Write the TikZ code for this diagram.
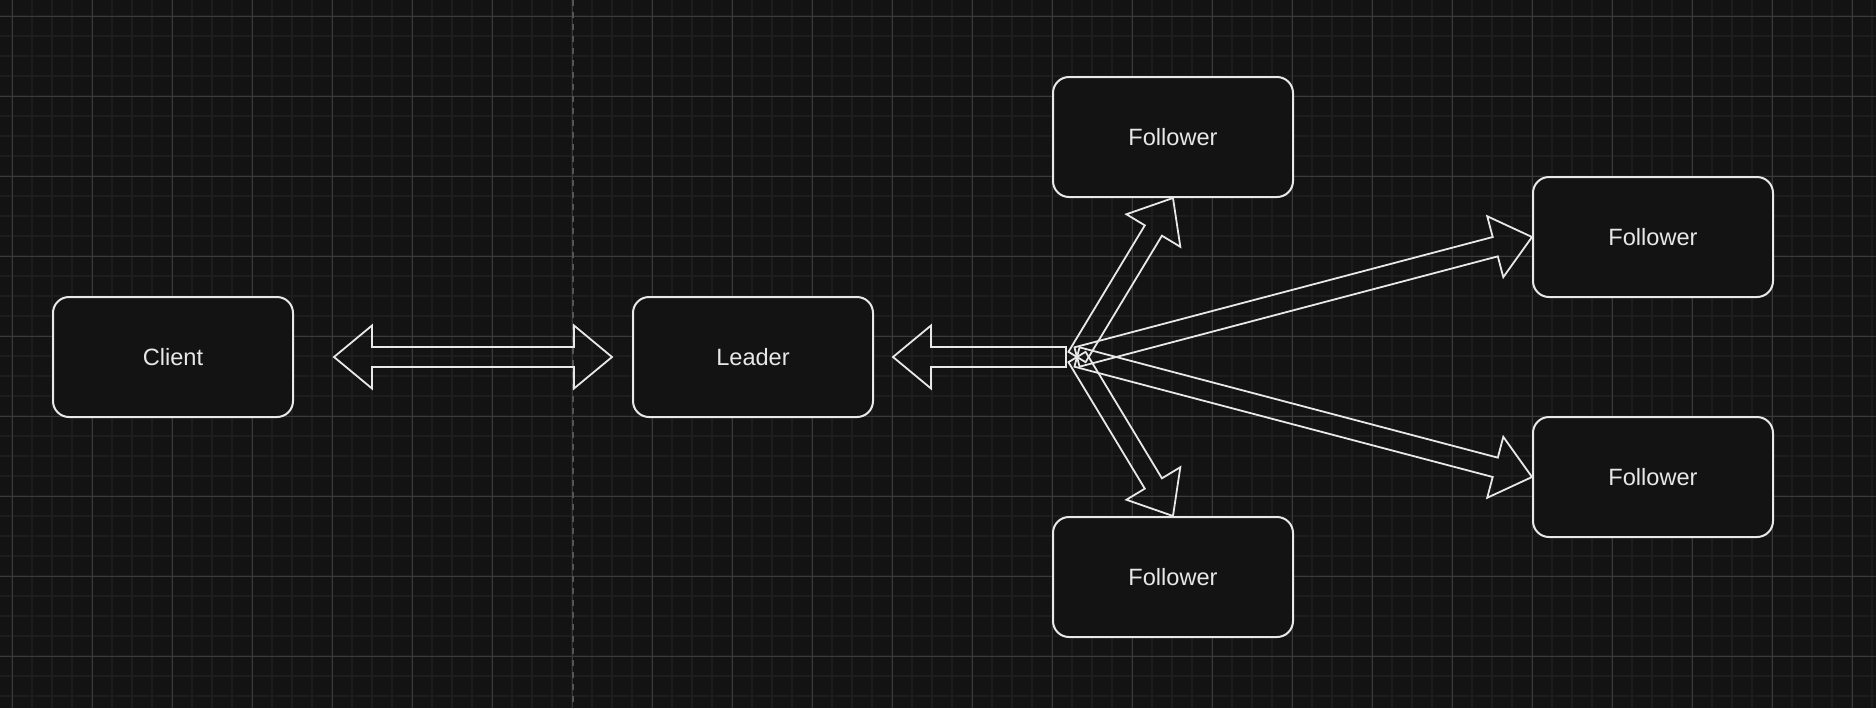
\documentclass[tikz,border=0pt]{standalone}
\usepackage{fontspec}
\setmainfont{Liberation Sans}
\usetikzlibrary{calc}

\definecolor{canvas}{HTML}{131313}
\definecolor{minorline}{HTML}{1D1D1D}
\definecolor{majorline}{HTML}{3A3A3A}
\definecolor{dashline}{HTML}{555555}
\definecolor{ink}{HTML}{E8E8E8}

% flat block arrow, tip at #2
\newcommand{\flatarrow}[2]{%
  \coordinate (hb) at ($(#2)!19pt!(#1)$);
  \draw[arrowline] ($(#1)!5pt!90:(#2)$) -- ($(hb)!5pt!-90:(#1)$) -- ($(hb)!15.75pt!-90:(#1)$) -- (#2)
    -- ($(hb)!15.75pt!90:(#1)$) -- ($(hb)!5pt!90:(#1)$) -- ($(#1)!5pt!-90:(#2)$) -- cycle;
}
% flat block arrow, tips at both ends
\newcommand{\flatdouble}[2]{%
  \coordinate (ha) at ($(#1)!19pt!(#2)$);
  \coordinate (hb) at ($(#2)!19pt!(#1)$);
  \draw[arrowline] (#1) -- ($(ha)!15.75pt!90:(#2)$) -- ($(ha)!5pt!90:(#2)$) -- ($(hb)!5pt!-90:(#1)$)
    -- ($(hb)!15.75pt!-90:(#1)$) -- (#2) -- ($(hb)!15.75pt!90:(#1)$) -- ($(hb)!5pt!90:(#1)$)
    -- ($(ha)!5pt!-90:(#2)$) -- ($(ha)!15.75pt!-90:(#2)$) -- cycle;
}

\begin{document}
\begin{tikzpicture}[x=0.5pt, y=-0.5pt,
    box/.style={draw=ink, fill=canvas, line width=1pt, rounded corners=8pt,
      minimum width=120pt, minimum height=60pt, text=ink,
      font=\fontsize{11.8}{14}\selectfont},
    arrowline/.style={draw=ink, line width=0.9pt, line join=miter},
    minorgrid/.style={draw=minorline, line width=1pt},
    majorgrid/.style={draw=majorline, line width=0.5pt}]
    % Background
    \useasboundingbox (0,0) rectangle (1876,708);
    \fill[canvas] (0,0) rectangle (1876,708);

    % Grid
    \foreach \x in {12,32,...,1872} \draw[minorgrid] (\x,0) -- (\x,708);
    \foreach \y in {16,36,...,696} \draw[minorgrid] (0,\y) -- (1876,\y);
    \foreach \x in {12,92,...,1852} \draw[majorgrid] (\x,0) -- (\x,708);
    \foreach \y in {16,96,...,656} \draw[majorgrid] (0,\y) -- (1876,\y);

    % Divider
    \draw[dashline, line width=0.7pt, dash pattern=on 3pt off 3pt] (573,0) -- (573,708);

    % Nodes
    \node[box] (client) at (173,357) {Client};
    \node[box] (leader) at (753,357) {Leader};
    \node[box] (f1) at (1173,137) {Follower};
    \node[box] (f2) at (1653,237) {Follower};
    \node[box] (f3) at (1653,477) {Follower};
    \node[box] (f4) at (1173,577) {Follower};

    % Client <-> Leader
    \coordinate (cl) at ($(client.east)+(40,0)$);
    \coordinate (cr) at ($(leader.west)+(-20,0)$);
    \flatdouble{cl}{cr}

    % Hub -> Leader
    \coordinate (hub) at (1077,357);
    \coordinate (tail) at (1066,357);
    \coordinate (lt) at ($(leader.east)+(19,0)$);
    \flatarrow{tail}{lt}

    % Hub -> Followers
    \flatarrow{hub}{f1.south}
    \flatarrow{hub}{f2.west}
    \flatarrow{hub}{f3.west}
    \flatarrow{hub}{f4.north}
\end{tikzpicture}
\end{document}
